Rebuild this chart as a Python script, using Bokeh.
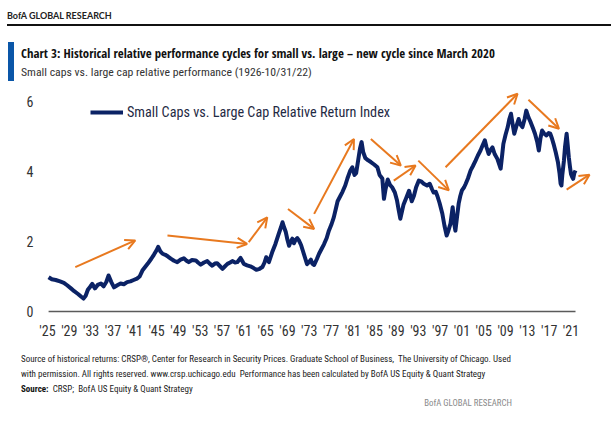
import html
from bokeh.plotting import figure
from bokeh.models import (Range1d, FixedTicker, Arrow, OpenHead, Legend, LegendItem,
                          ColumnDataSource, Div)
from bokeh.layouts import column
from bokeh.embed import file_html
from bokeh.resources import INLINE

# ---------------- data ----------------
dates = [1926.2, 1926.8, 1927.5, 1928.3, 1929.0, 1929.6, 1930.3, 1930.9, 1931.6, 1932.2,
         1932.6, 1933.0, 1933.4, 1933.8, 1934.2, 1934.7, 1935.2, 1935.8, 1936.3, 1936.8,
         1937.2, 1937.7, 1938.2, 1938.8, 1939.4, 1940.0, 1940.6, 1941.2, 1941.8, 1942.4,
         1942.9, 1943.4, 1943.9, 1944.4, 1945.0, 1945.5, 1946.0, 1946.3, 1946.7, 1947.1,
         1947.6, 1948.1, 1948.6, 1949.2, 1949.8, 1950.4, 1951.0, 1951.5, 1951.9, 1952.5,
         1953.2, 1953.6, 1954.1, 1954.7, 1955.3, 1955.8, 1956.2, 1956.7, 1957.1, 1957.6,
         1958.1, 1958.6, 1959.0, 1959.5, 1959.9, 1960.4, 1960.8, 1961.4, 1961.7, 1962.0,
         1962.6, 1963.2, 1963.8, 1964.3, 1964.9, 1965.4, 1965.8, 1966.1, 1966.6, 1967.2,
         1967.8, 1968.4, 1968.8, 1969.1, 1969.4, 1969.7, 1970.0, 1970.3, 1970.6, 1970.9,
         1971.2, 1971.5, 1971.8, 1972.1, 1972.5, 1972.8, 1973.2, 1973.6, 1973.9, 1974.3,
         1974.6, 1974.9, 1975.4, 1975.8, 1976.3, 1976.7, 1977.2, 1977.6, 1978.1, 1978.5,
         1978.9, 1979.2, 1979.7, 1980.1, 1980.6, 1981.0, 1981.5, 1981.9, 1982.3, 1982.6,
         1983.0, 1983.3, 1983.6, 1983.9, 1984.3, 1984.8, 1985.3, 1985.9, 1986.5, 1986.9,
         1987.4, 1987.7, 1988.0, 1988.4, 1988.8, 1989.2, 1989.7, 1990.1, 1990.4, 1990.7,
         1991.3, 1991.8, 1992.3, 1992.8, 1993.2, 1993.6, 1994.1, 1994.5, 1995.0, 1995.6,
         1996.1, 1996.5, 1996.8, 1997.2, 1997.5, 1997.9, 1998.4, 1998.8, 1999.2, 1999.5,
         1999.9, 2000.3, 2000.6, 2000.8, 2001.1, 2001.4, 2001.7, 2002.0, 2002.4, 2002.7,
         2003.1, 2003.6, 2004.0, 2004.5, 2004.9, 2005.4, 2005.8, 2006.2, 2006.5, 2006.9,
         2007.2, 2007.6, 2008.0, 2008.5, 2009.1, 2009.4, 2009.6, 2010.0, 2010.4, 2010.7,
         2011.0, 2011.3, 2011.6, 2012.0, 2012.4, 2012.7, 2013.1, 2013.5, 2013.8, 2014.2,
         2014.6, 2015.0, 2015.4, 2015.8, 2016.1, 2016.4, 2016.7, 2017.1, 2017.5, 2017.9,
         2018.2, 2018.5, 2018.8, 2019.2, 2019.6, 2019.9, 2020.1, 2020.25, 2020.4, 2020.7,
         2020.9, 2021.2, 2021.4, 2021.6, 2021.8, 2022.0, 2022.2, 2022.4, 2022.6, 2022.83]
relative_index = [0.98, 0.92, 0.90, 0.86, 0.82, 0.75, 0.66, 0.58, 0.50, 0.42,
                  0.37, 0.45, 0.62, 0.70, 0.79, 0.66, 0.76, 0.80, 0.72, 0.85,
                  1.03, 0.84, 0.69, 0.75, 0.80, 0.78, 0.84, 0.86, 0.90, 0.94,
                  1.00, 1.17, 1.27, 1.37, 1.50, 1.62, 1.75, 1.85, 1.72, 1.65,
                  1.62, 1.57, 1.51, 1.45, 1.41, 1.48, 1.52, 1.45, 1.41, 1.47,
                  1.46, 1.40, 1.34, 1.40, 1.44, 1.36, 1.31, 1.37, 1.38, 1.30,
                  1.22, 1.30, 1.36, 1.40, 1.44, 1.40, 1.41, 1.53, 1.45, 1.36,
                  1.32, 1.29, 1.24, 1.19, 1.22, 1.27, 1.40, 1.55, 1.41, 1.69,
                  1.93, 2.22, 2.40, 2.55, 2.40, 2.27, 2.05, 1.88, 2.00, 2.08,
                  1.95, 2.05, 2.10, 2.03, 1.90, 1.75, 1.55, 1.35, 1.40, 1.48,
                  1.36, 1.33, 1.50, 1.65, 1.80, 1.92, 2.10, 2.31, 2.50, 2.69,
                  2.95, 3.15, 3.30, 3.42, 3.60, 3.80, 4.02, 4.12, 3.90, 3.95,
                  4.35, 4.65, 4.84, 4.55, 4.38, 4.32, 4.27, 4.20, 4.12, 3.90,
                  3.80, 3.22, 3.50, 3.77, 3.62, 3.55, 3.40, 3.17, 2.90, 2.65,
                  3.06, 3.25, 3.45, 3.15, 3.31, 3.55, 3.74, 3.72, 3.65, 3.60,
                  3.65, 3.50, 3.40, 3.42, 3.30, 3.10, 2.80, 2.45, 2.17, 2.30,
                  2.51, 2.98, 2.50, 2.31, 2.70, 3.08, 3.30, 3.46, 3.55, 3.65,
                  3.80, 4.03, 4.15, 4.31, 4.45, 4.60, 4.75, 4.89, 4.70, 4.50,
                  4.60, 4.69, 4.50, 4.36, 4.08, 4.50, 4.79, 5.05, 5.27, 5.50,
                  5.65, 5.35, 5.08, 5.30, 5.50, 5.35, 5.27, 5.50, 5.74, 5.55,
                  5.41, 5.25, 5.08, 4.85, 4.60, 4.95, 5.17, 5.08, 5.03, 5.10,
                  5.08, 4.95, 4.79, 4.55, 4.27, 3.95, 3.65, 3.60, 3.89, 4.30,
                  4.69, 5.08, 4.75, 4.41, 4.15, 3.93, 3.85, 3.79, 3.95, 4.03]

tick_labels = ["'25", "'29", "'33", "'37", "'41", "'45", "'49", "'53", "'57", "'61", "'65", "'69",
               "'73", "'77", "'81", "'85", "'89", "'93", "'97", "'01", "'05", "'09", "'13", "'17", "'21"]
tick_positions = [1926 + 4 * i for i in range(len(tick_labels))]
y_ticks = [0, 2, 4, 6]

# cycle arrows (tail -> head), in data units
arrow_x0 = [1931.1, 1948.0, 1962.9, 1970.1, 1974.9, 1985.3, 1989.5, 1994.0, 1999.0, 2014.2, 2021.2]
arrow_y0 = [1.27, 2.17, 1.98, 2.93, 2.79, 4.93, 3.74, 4.31, 4.12, 6.05, 3.48]
arrow_x1 = [1942.1, 1962.6, 1966.3, 1974.9, 1982.2, 1990.8, 1993.5, 1999.6, 2012.2, 2019.8, 2025.4]
arrow_y1 = [2.03, 1.93, 2.69, 2.36, 4.93, 4.17, 4.17, 3.46, 6.22, 5.22, 3.91]

series_name = "Small Caps vs. Large Cap Relative Return Index"
brand = "BofA GLOBAL RESEARCH"
title_text = "Chart 3: Historical relative performance cycles for small vs. large \u2013 new cycle since March 2020"
subtitle_text = "Small caps vs. large cap relative performance (1926-10/31/22)"
foot1 = ("Source of historical returns: CRSP\u00ae, Center for Research in Security Prices. Graduate School of "
         "Business,  The University of Chicago. Used")
foot2 = ("with permission. All rights reserved. www.crsp.uchicago.edu  Performance has been calculated by "
         "BofA US Equity & Quant Strategy")
foot3_head = "Source:"
foot3 = "CRSP;  BofA US Equity & Quant Strategy"

NAVY = "#0b2265"
ORANGE = "#e8791f"
COND = "Roboto Condensed"
W = 611


def txt(s):
    return html.escape(s).replace("  ", "&nbsp; ")


def abs_text(left, center_y, s, font, size, color, weight="normal", extra=""):
    return (f'<div style="position:absolute;left:{left}px;top:{center_y - 10}px;height:20px;'
            f'line-height:20px;font-family:\'{font}\';font-size:{size}px;font-weight:{weight};'
            f'color:{color};white-space:nowrap;{extra}">{s}</div>')


# ---------------- header ----------------
HH = 86
hdr_html = (
    f'<div style="position:relative;width:{W}px;height:{HH}px;overflow:hidden;background:white;">'
    + abs_text(7, 16, txt(brand), "Lato", 9, "#222222", "bold", "letter-spacing:0px;")
    + f'<div style="position:absolute;left:7px;top:24px;width:{W - 7}px;height:2px;background:#111111;"></div>'
    + '<div style="position:absolute;left:8px;top:42px;width:6px;height:39px;background:#0a56a8;"></div>'
    + abs_text(21, 53, txt(title_text), "Open Sans Condensed", 12.8, "#111111", "bold")
    + abs_text(21, 72, txt(subtitle_text), COND, 11.75, "#333333")
    + '</div>'
)
header = Div(text=hdr_html, width=W, height=HH, margin=(0, 0, 0, 0))

# ---------------- main chart ----------------
PX_PER_YEAR = 5.453
PX_PER_UNIT = 35.0
left_b, right_b, top_b, bottom_b = 40, 11, 0, 27
frame_w = W - left_b - right_b
frame_h = 232
x0 = dates[0] - 0.2 - (47 - left_b) / PX_PER_YEAR
y0 = -7 / PX_PER_UNIT
p = figure(width=W, height=frame_h + top_b + bottom_b, output_backend="svg", toolbar_location=None,
           x_range=Range1d(x0, x0 + frame_w / PX_PER_YEAR),
           y_range=Range1d(y0, y0 + frame_h / PX_PER_UNIT),
           min_border_left=left_b, min_border_right=right_b, min_border_top=top_b,
           min_border_bottom=bottom_b, outline_line_color=None, margin=(0, 0, 0, 0))
p.grid.visible = False

src = ColumnDataSource(dict(date=dates, value=relative_index))
p.line(x=[dates[0], dates[-1]], y=[0, 0], line_color="#5a5a5a", line_width=1.5)
r = p.line(x="date", y="value", source=src, line_color=NAVY, line_width=4, line_join="round")

for xa, ya, xb, yb in zip(arrow_x0, arrow_y0, arrow_x1, arrow_y1):
    p.add_layout(Arrow(x_start=xa, y_start=ya, x_end=xb, y_end=yb, line_color=ORANGE, line_width=2,
                       end=OpenHead(size=10, line_color=ORANGE, line_width=2)))

p.xaxis.ticker = FixedTicker(ticks=tick_positions)
p.xaxis.major_label_overrides = {t: l for t, l in zip(tick_positions, tick_labels)}
p.yaxis.ticker = FixedTicker(ticks=y_ticks)
for ax in (p.xaxis, p.yaxis):
    ax.axis_line_color = None
    ax.major_tick_line_color = None
    ax.minor_tick_line_color = None
    ax.major_tick_out = 0
    ax.major_tick_in = 0
    ax.minor_tick_out = 0
    ax.minor_tick_in = 0
    ax.major_label_text_font = COND
    ax.major_label_text_font_size = "14px"
    ax.major_label_text_color = "#333333"
p.xaxis.major_label_standoff = 4
p.yaxis.major_label_standoff = 7

legend = Legend(items=[LegendItem(label=series_name, renderers=[r])], location=(50, 196),
                border_line_color=None, background_fill_alpha=0, padding=0, margin=0,
                glyph_width=33, glyph_height=20, label_height=20, label_standoff=4,
                label_text_font=COND, label_text_font_size="14.2px", label_text_color="#1f2a44")
p.add_layout(legend)

# ---------------- footer ----------------
FH = 421 - HH - (frame_h + top_b + bottom_b)
ftr_html = (
    f'<div style="position:relative;width:{W}px;height:{FH}px;overflow:hidden;background:white;">'
    + abs_text(21, 14, txt(foot1), COND, 9, "#222222")
    + abs_text(21, 29, txt(foot2), COND, 9, "#222222")
    + abs_text(21, 44, f'<b style="color:#111111;">{txt(foot3_head)}</b>&nbsp; {txt(foot3)}', COND, 9, "#222222")
    + f'<div style="position:absolute;right:{W - 512}px;top:48px;height:20px;line-height:20px;'
      f'font-family:\'{COND}\';font-size:8.8px;color:#8a8a8a;white-space:nowrap;">{txt(brand)}</div>'
    + '</div>'
)
footer = Div(text=ftr_html, width=W, height=FH, margin=(0, 0, 0, 0))

layout = column(header, p, footer, spacing=0)
open("out.html", "w").write(file_html(layout, INLINE))
